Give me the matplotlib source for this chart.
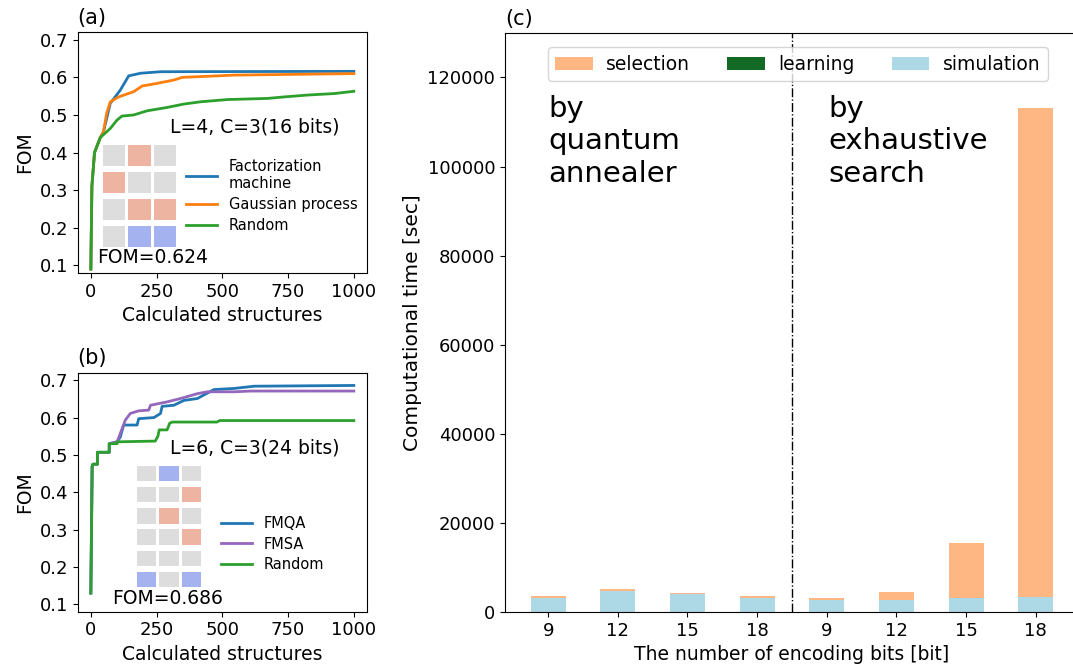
import numpy as np
import matplotlib
matplotlib.use('Agg')
import matplotlib.pyplot as plt
from matplotlib.patches import Rectangle

# ---- panel (a): best FOM vs calculated structures, L=4, C=3 ----
a_fm_x = [0, 4, 14, 36, 48, 74, 112, 144, 189, 265, 1000]
a_fm_y = [0.09, 0.31, 0.40, 0.44, 0.455, 0.531, 0.566, 0.604, 0.611, 0.615, 0.616]
a_gp_x = [0, 4, 14, 36, 48, 60, 74, 106, 163, 195, 252, 316, 348, 417, 545, 1000]
a_gp_y = [0.09, 0.31, 0.40, 0.44, 0.455, 0.504, 0.535, 0.548, 0.562, 0.577, 0.584, 0.593, 0.600, 0.602, 0.606, 0.610]
a_rnd_x = [0, 4, 14, 36, 74, 99, 118, 163, 214, 290, 354, 417, 520, 672, 736, 825, 927, 1000]
a_rnd_y = [0.09, 0.31, 0.40, 0.44, 0.464, 0.486, 0.497, 0.500, 0.511, 0.520, 0.529, 0.535, 0.541, 0.544, 0.548, 0.553, 0.557, 0.563]

# ---- panel (b): L=6, C=3 ----
b_qa_x = [0, 5, 8, 25, 25, 70, 70, 100, 112, 125, 176, 182, 240, 265, 271, 316, 354, 405, 468, 545, 621, 1000]
b_qa_y = [0.13, 0.47, 0.475, 0.475, 0.507, 0.507, 0.53, 0.535, 0.548, 0.58, 0.58, 0.597, 0.60, 0.611, 0.63, 0.633, 0.646, 0.651, 0.675, 0.678, 0.684, 0.686]
b_sa_x = [0, 5, 8, 25, 25, 70, 70, 100, 131, 150, 182, 220, 227, 290, 341, 405, 443, 545, 608, 1000]
b_sa_y = [0.13, 0.47, 0.475, 0.475, 0.507, 0.507, 0.53, 0.535, 0.593, 0.611, 0.618, 0.62, 0.633, 0.642, 0.651, 0.664, 0.669, 0.669, 0.671, 0.671]
b_rnd_x = [0, 5, 8, 25, 25, 70, 70, 100, 100, 245, 255, 260, 290, 300, 310, 480, 490, 1000]
b_rnd_y = [0.13, 0.47, 0.475, 0.475, 0.507, 0.507, 0.53, 0.53, 0.535, 0.537, 0.55, 0.567, 0.567, 0.585, 0.588, 0.588, 0.592, 0.592]

# best structures: 0 = off, 1 = red, -1 = blue
a_grid = [[0, 1, 0],
          [1, 0, 0],
          [0, 1, 1],
          [0, -1, -1]]
b_grid = [[0, -1, 0],
          [0, 0, 1],
          [0, 1, 0],
          [0, 0, 1],
          [0, 0, 0],
          [-1, 0, -1]]

# ---- panel (c): computational time ----
bits = ['9', '12', '15', '18', '9', '12', '15', '18']
simulation = [3200, 4700, 4100, 3100, 2800, 2700, 3100, 3300]
learning = [0, 0, 0, 150, 0, 0, 0, 0]
selection = [350, 450, 200, 250, 250, 1800, 12400, 109800]

cell_colors = {0: '#dddddd', 1: '#eeb4a2', -1: '#a4b3ef'}

plt.rcParams['font.size'] = 13
plt.rcParams['axes.labelsize'] = 13.5
fig = plt.figure(figsize=(10.73, 6.72), dpi=100)

ax_a = fig.add_axes([0.0724, 0.594, 0.2696, 0.358])
ax_b = fig.add_axes([0.0724, 0.0897, 0.2696, 0.3556])
ax_c = fig.add_axes([0.4706, 0.0893, 0.535, 0.8617])


def draw_grid(rect, grid, cw, ch):
    g = fig.add_axes(rect)
    nr = len(grid)
    for i, row in enumerate(grid):
        for j, v in enumerate(row):
            g.add_patch(Rectangle((j, nr - 1 - i), cw, ch, color=cell_colors[v], lw=0))
    g.set_xlim(0, 2 + cw)
    g.set_ylim(0, nr - 1 + ch)
    g.axis('off')


ax_a.plot(a_fm_x, a_fm_y, color='tab:blue', lw=2, label='Factorization\nmachine')
ax_a.plot(a_gp_x, a_gp_y, color='tab:orange', lw=2, label='Gaussian process')
ax_a.plot(a_rnd_x, a_rnd_y, color='tab:green', lw=2, label='Random')
ax_a.set_xlim(-50, 1050)
ax_a.set_ylim(0.08, 0.72)
ax_a.set_yticks([0.1, 0.2, 0.3, 0.4, 0.5, 0.6, 0.7])
ax_a.set_xticks([0, 250, 500, 750, 1000])
ax_a.set_xlabel('Calculated structures')
ax_a.set_ylabel('FOM')
ax_a.set_title('(a)', loc='left', fontsize=15)
ax_a.legend(loc='center left', bbox_to_anchor=(0.33, 0.32), frameon=False, fontsize=10.5,
            handlelength=2.1, labelspacing=0.4)
ax_a.text(0.319, 0.605, 'L=4, C=3(16 bits)', transform=ax_a.transAxes, ha='left', va='center', fontsize=13.5)
ax_a.text(0.067, 0.065, 'FOM=0.624', transform=ax_a.transAxes, ha='left', va='center', fontsize=13.5)
draw_grid([0.096, 0.6324, 0.068, 0.1518], a_grid, 0.87, 0.79)

ax_b.plot(b_qa_x, b_qa_y, color='tab:blue', lw=2, label='FMQA')
ax_b.plot(b_sa_x, b_sa_y, color='tab:purple', lw=2, label='FMSA')
ax_b.plot(b_rnd_x, b_rnd_y, color='tab:green', lw=2, label='Random')
ax_b.set_xlim(-50, 1050)
ax_b.set_ylim(0.08, 0.72)
ax_b.set_yticks([0.1, 0.2, 0.3, 0.4, 0.5, 0.6, 0.7])
ax_b.set_xticks([0, 250, 500, 750, 1000])
ax_b.set_xlabel('Calculated structures')
ax_b.set_ylabel('FOM')
ax_b.set_title('(b)', loc='left', fontsize=15)
ax_b.legend(loc='center left', bbox_to_anchor=(0.45, 0.283), frameon=False, fontsize=10.5,
            handlelength=2.1, labelspacing=0.4)
ax_b.text(0.319, 0.685, 'L=6, C=3(24 bits)', transform=ax_b.transAxes, ha='left', va='center', fontsize=13.5)
ax_b.text(0.119, 0.057, 'FOM=0.686', transform=ax_b.transAxes, ha='left', va='center', fontsize=13.5)
draw_grid([0.1277, 0.1265, 0.0596, 0.180], b_grid, 0.86, 0.72)

x = np.arange(len(bits))
sim = np.array(simulation)
lrn = np.array(learning)
sel = np.array(selection)
ax_c.bar(x, sel, 0.5, bottom=sim + lrn, color='#feb683', label='selection')
ax_c.bar(x, lrn, 0.5, bottom=sim, color='#136a25', label='learning')
ax_c.bar(x, sim, 0.5, color='#add8e6', label='simulation')
ax_c.axvline(3.5, color='black', lw=1, ls='-.')
ax_c.set_xticks(x)
ax_c.set_xticklabels(bits)
ax_c.set_xlim(-0.62, 7.62)
ax_c.set_ylim(0, 130000)
ax_c.set_yticks([0, 20000, 40000, 60000, 80000, 100000, 120000])
ax_c.set_xlabel('The number of encoding bits [bit]')
ax_c.set_ylabel('Computational time [sec]', fontsize=14.5)
ax_c.set_title('(c)', loc='left', fontsize=15)
ax_c.legend(loc='center', bbox_to_anchor=(0.51, 0.946), ncol=3, fontsize=13.5,
            handletextpad=0.7)
ax_c.text(0.075, 0.893, 'by\nquantum\nannealer', transform=ax_c.transAxes, ha='left', va='top', fontsize=21)
ax_c.text(0.563, 0.893, 'by\nexhaustive\nsearch', transform=ax_c.transAxes, ha='left', va='top', fontsize=21)

fig.savefig('out.png', dpi=100)
